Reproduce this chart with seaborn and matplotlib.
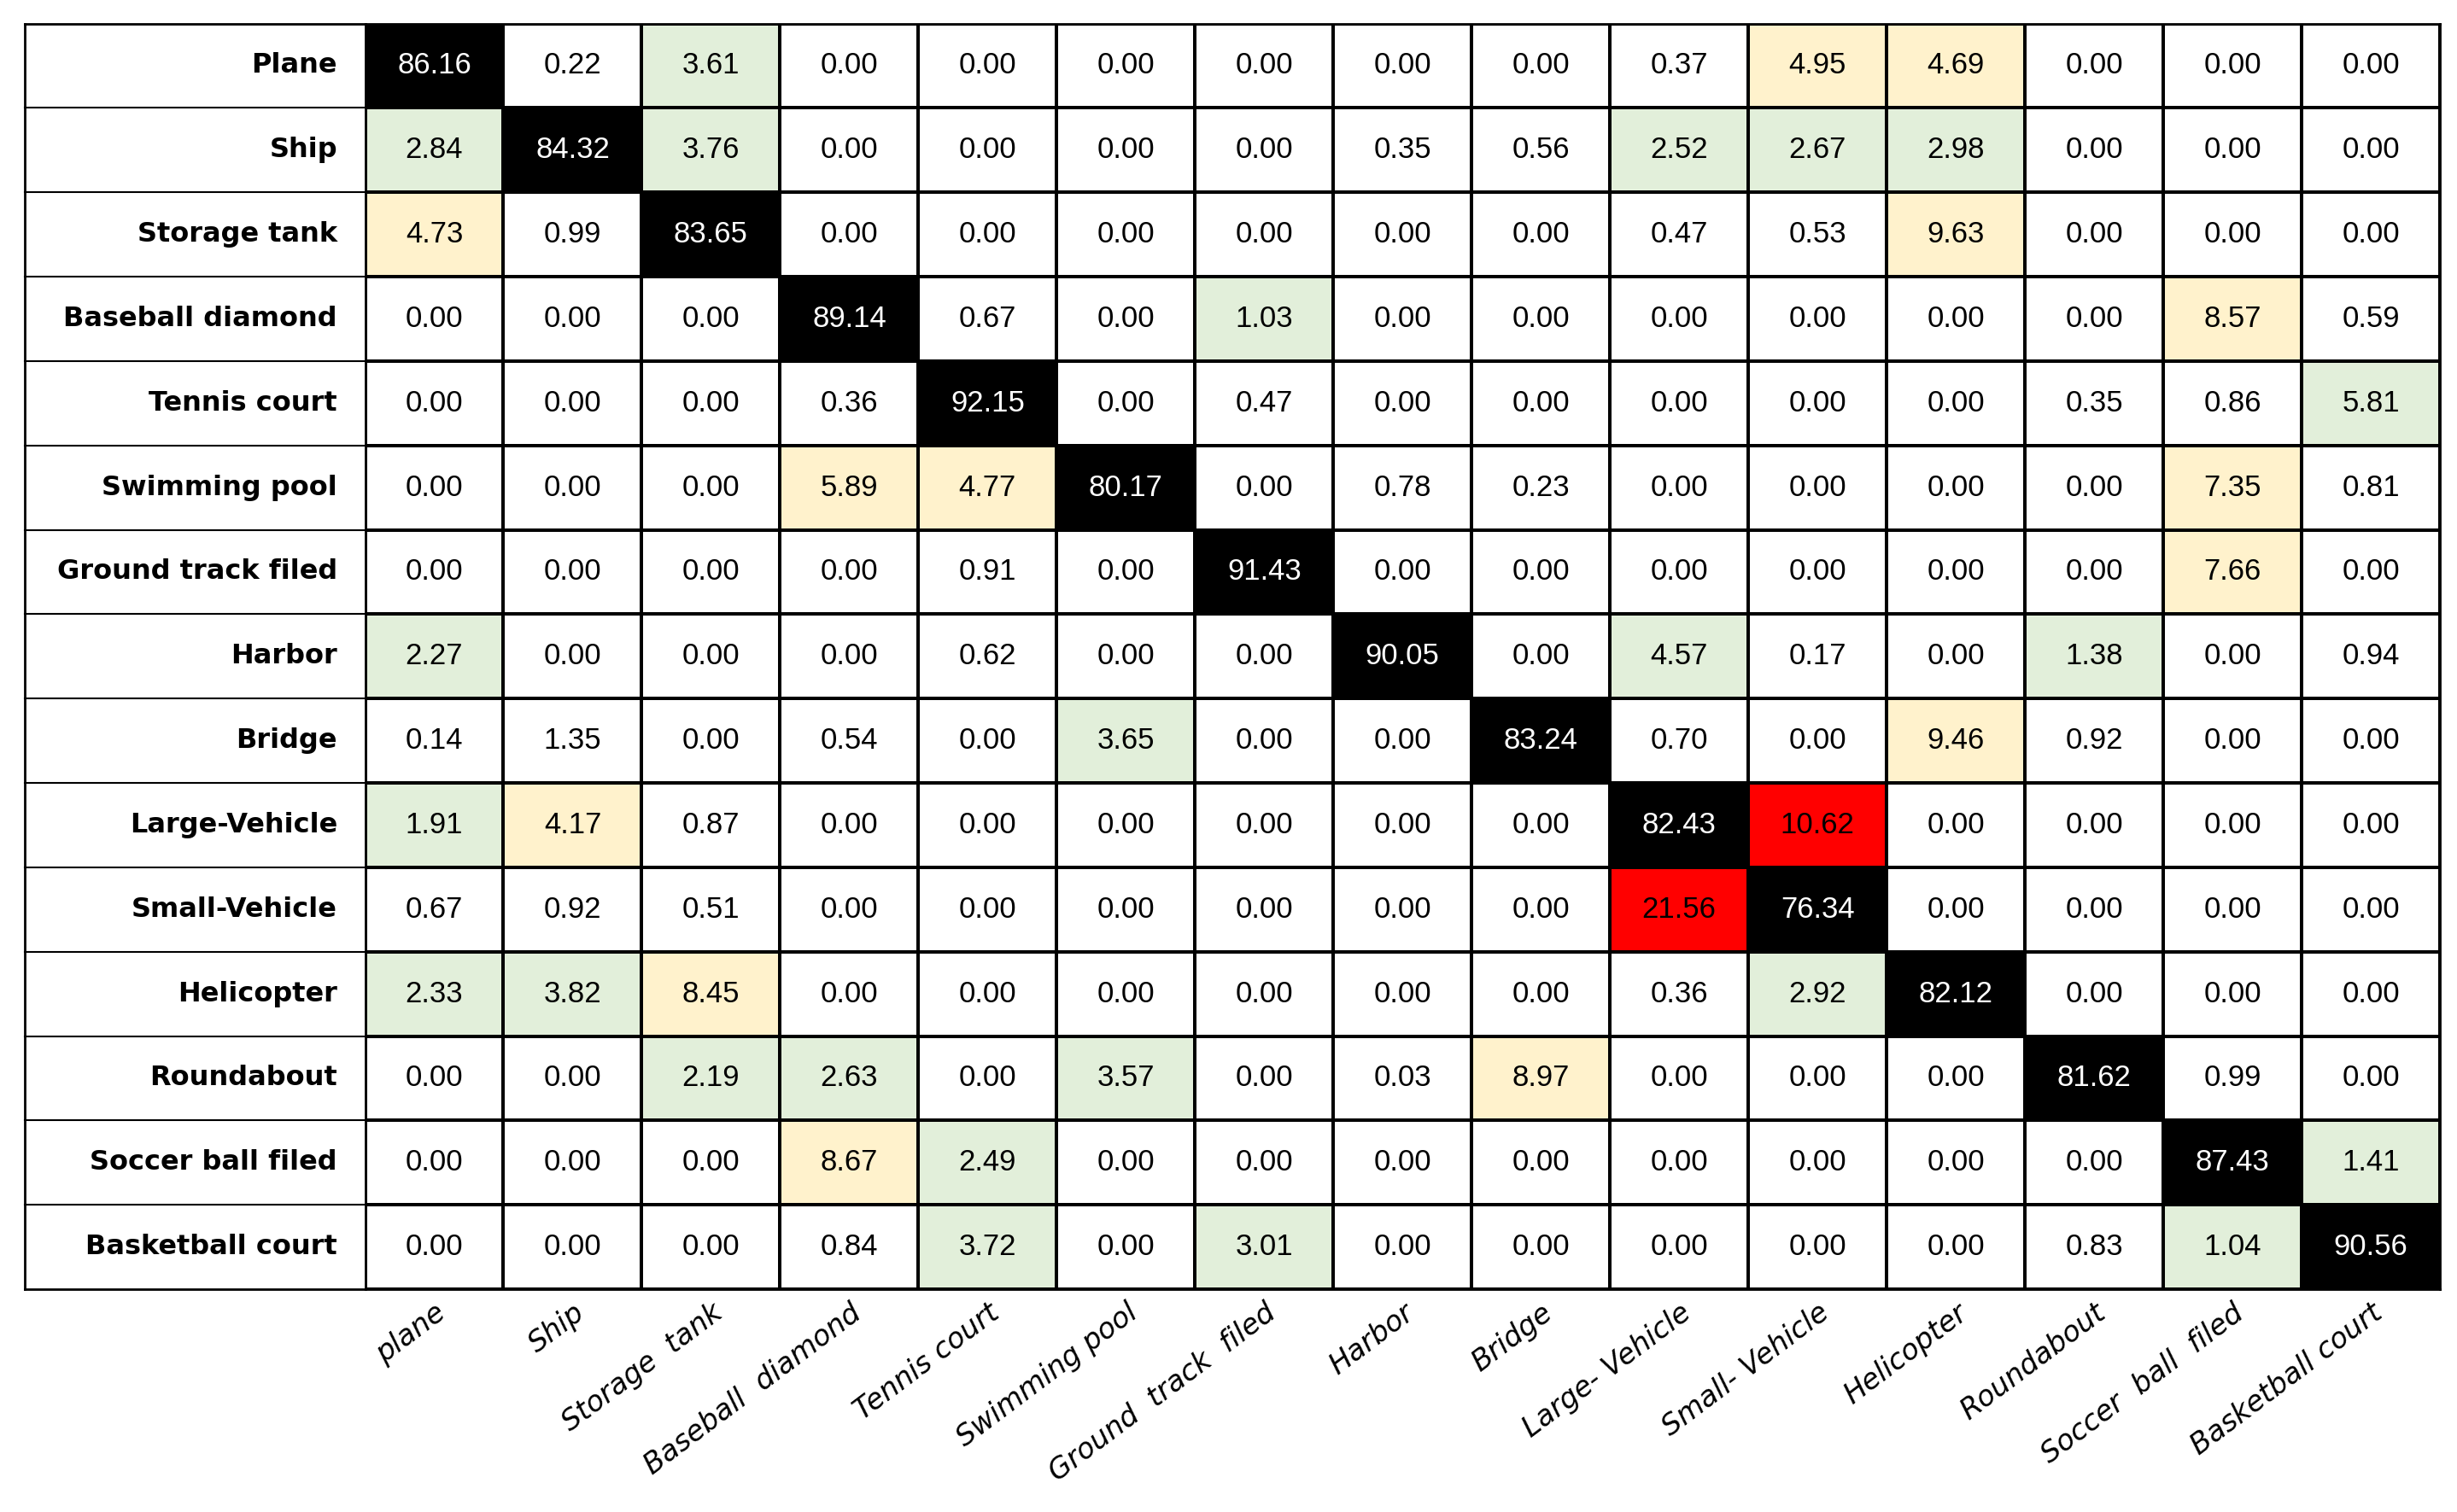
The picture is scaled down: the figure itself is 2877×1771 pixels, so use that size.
import numpy as np
import matplotlib
matplotlib.use("Agg")
import matplotlib.pyplot as plt
import seaborn as sns
from matplotlib.colors import ListedColormap

# class names (rows = true, cols = predicted)
row_labels = ['Plane', 'Ship', 'Storage tank', 'Baseball diamond', 'Tennis court',
              'Swimming pool', 'Ground track filed', 'Harbor', 'Bridge',
              'Large-Vehicle', 'Small-Vehicle', 'Helicopter', 'Roundabout',
              'Soccer ball filed', 'Basketball court']
col_labels = ['plane', 'Ship', 'Storage  tank', 'Baseball  diamond', 'Tennis court',
              'Swimming pool', 'Ground  track  filed', 'Harbor', 'Bridge',
              'Large- Vehicle', 'Small- Vehicle', 'Helicopter', 'Roundabout',
              'Soccer  ball  filed', 'Basketball court']

# confusion matrix values (%)
values = [
    [86.16, 0.22, 3.61, 0.00, 0.00, 0.00, 0.00, 0.00, 0.00, 0.37, 4.95, 4.69, 0.00, 0.00, 0.00],
    [2.84, 84.32, 3.76, 0.00, 0.00, 0.00, 0.00, 0.35, 0.56, 2.52, 2.67, 2.98, 0.00, 0.00, 0.00],
    [4.73, 0.99, 83.65, 0.00, 0.00, 0.00, 0.00, 0.00, 0.00, 0.47, 0.53, 9.63, 0.00, 0.00, 0.00],
    [0.00, 0.00, 0.00, 89.14, 0.67, 0.00, 1.03, 0.00, 0.00, 0.00, 0.00, 0.00, 0.00, 8.57, 0.59],
    [0.00, 0.00, 0.00, 0.36, 92.15, 0.00, 0.47, 0.00, 0.00, 0.00, 0.00, 0.00, 0.35, 0.86, 5.81],
    [0.00, 0.00, 0.00, 5.89, 4.77, 80.17, 0.00, 0.78, 0.23, 0.00, 0.00, 0.00, 0.00, 7.35, 0.81],
    [0.00, 0.00, 0.00, 0.00, 0.91, 0.00, 91.43, 0.00, 0.00, 0.00, 0.00, 0.00, 0.00, 7.66, 0.00],
    [2.27, 0.00, 0.00, 0.00, 0.62, 0.00, 0.00, 90.05, 0.00, 4.57, 0.17, 0.00, 1.38, 0.00, 0.94],
    [0.14, 1.35, 0.00, 0.54, 0.00, 3.65, 0.00, 0.00, 83.24, 0.70, 0.00, 9.46, 0.92, 0.00, 0.00],
    [1.91, 4.17, 0.87, 0.00, 0.00, 0.00, 0.00, 0.00, 0.00, 82.43, 10.62, 0.00, 0.00, 0.00, 0.00],
    [0.67, 0.92, 0.51, 0.00, 0.00, 0.00, 0.00, 0.00, 0.00, 21.56, 76.34, 0.00, 0.00, 0.00, 0.00],
    [2.33, 3.82, 8.45, 0.00, 0.00, 0.00, 0.00, 0.00, 0.00, 0.36, 2.92, 82.12, 0.00, 0.00, 0.00],
    [0.00, 0.00, 2.19, 2.63, 0.00, 3.57, 0.00, 0.03, 8.97, 0.00, 0.00, 0.00, 81.62, 0.99, 0.00],
    [0.00, 0.00, 0.00, 8.67, 2.49, 0.00, 0.00, 0.00, 0.00, 0.00, 0.00, 0.00, 0.00, 87.43, 1.41],
    [0.00, 0.00, 0.00, 0.84, 3.72, 0.00, 3.01, 0.00, 0.00, 0.00, 0.00, 0.00, 0.83, 1.04, 90.56],
]

# cell highlight as coloured in the source table
# w = white, g = green, y = yellow, k = black (diagonal), r = red
highlight = [
    'kwgwwwwwwwyywww',
    'gkgwwwwwwgggwww',
    'ywkwwwwwwwwywww',
    'wwwkwwgwwwwwwyw',
    'wwwwkwwwwwwwwwg',
    'wwwyykwwwwwwwyw',
    'wwwwwwkwwwwwwyw',
    'gwwwwwwkwgwwgww',
    'wwwwwgwwkwwywww',
    'gywwwwwwwkrwwww',
    'wwwwwwwwwrkwwww',
    'ggywwwwwwwgkwww',
    'wwggwgwwywwwkww',
    'wwwygwwwwwwwwkg',
    'wwwwgwgwwwwwwgk',
]

codes = 'wgykr'
palette = ['#FFFFFF', '#E2EFDA', '#FFF2CC', '#000000', '#FF0000']
levels = np.array([[codes.index(c) for c in row] for row in highlight])

W, H = 2877, 1771
fig = plt.figure(figsize=(W / 100, H / 100), dpi=100)
left, right, top, bottom = 427.5, 2857, 27.5, 1510
ax = fig.add_axes([left / W, 1 - bottom / H, (right - left) / W, (bottom - top) / H])

sns.heatmap(levels, cmap=ListedColormap(palette), vmin=-0.5, vmax=4.5,
            annot=np.array(values), fmt='.2f', cbar=False,
            linewidths=1.5, linecolor='black', ax=ax,
            xticklabels=col_labels, yticklabels=False,
            annot_kws={'fontsize': 25, 'family': ['Liberation Sans', 'DejaVu Sans']})

# text colour: white on black cells, black elsewhere
for txt, lv in zip(ax.texts, levels.flatten()):
    txt.set_color('white' if codes[lv] == 'k' else 'black')

for s in ax.spines.values():
    s.set_visible(True)
    s.set_linewidth(2)
    s.set_color('black')

# label column on the left, drawn as part of the table
lab_w = (left - 29) / ((right - left) / 15)
n = len(row_labels)
for i in range(n + 1):
    ax.plot([-lab_w, 0], [i, i], color='black', lw=2 if i in (0, n) else 1.5, clip_on=False)
ax.plot([-lab_w, -lab_w], [0, n], color='black', lw=2, clip_on=False)
for i, lab in enumerate(row_labels):
    ax.text(-0.2, i + 0.5, lab, ha='right', va='center', fontsize=23,
            fontweight='bold', family=['DejaVu Sans'])

ax.tick_params(length=0, pad=8)
ax.set_xticklabels(col_labels, rotation=37, ha='right', va='top',
                   rotation_mode='anchor', fontsize=24, fontstyle='italic',
                   family=['DejaVu Sans'])

fig.savefig('out.png', dpi=100, facecolor='white')
